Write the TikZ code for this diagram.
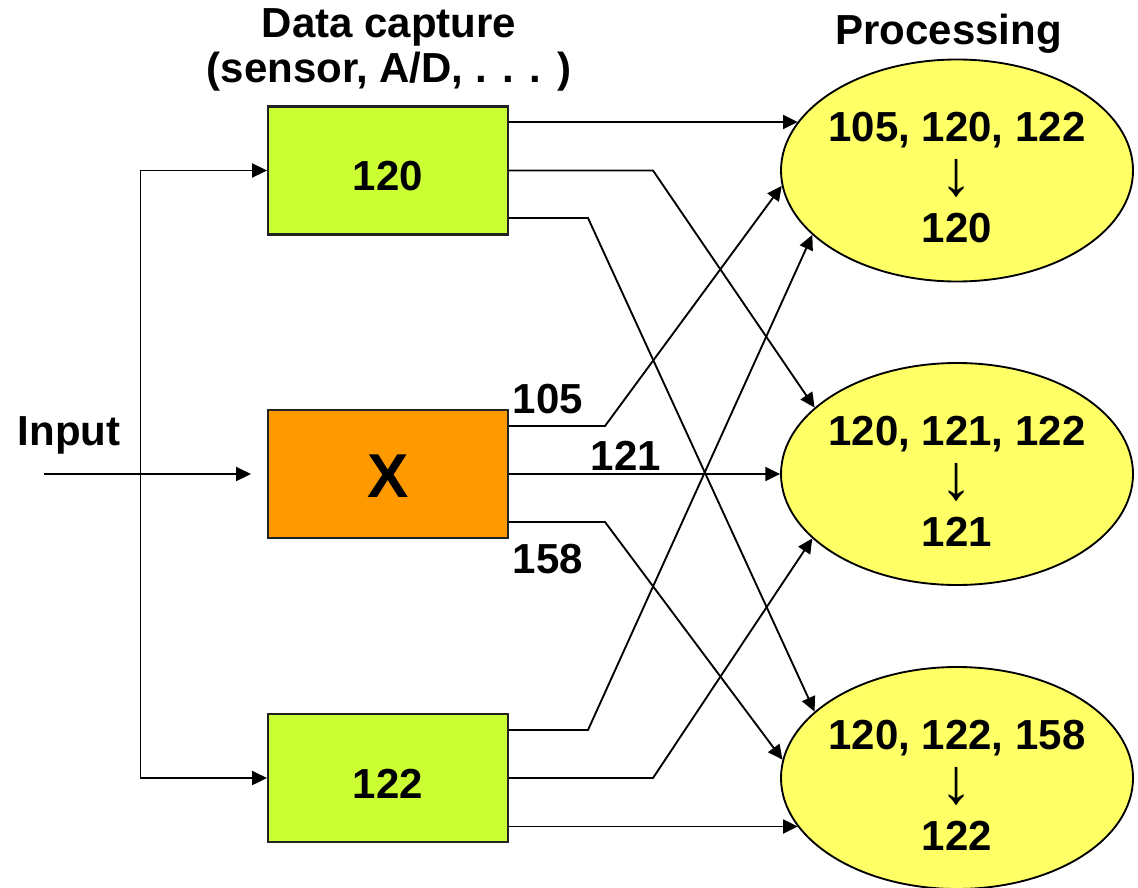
\documentclass[tikz,border=0pt]{standalone}
\usepackage{graphicx}
\usepackage{fontspec}
\setmainfont{Liberation Sans}
\usetikzlibrary{arrows.meta,shapes.geometric,calc}
\definecolor{capgreen}{HTML}{CCFF33}
\definecolor{faultorange}{HTML}{FF9900}
\definecolor{procyellow}{HTML}{FFFF66}
\definecolor{edgegrey}{HTML}{222222}
% the "reduces to" arrow between the received values and the vote
\newcommand{\votearrow}{\smash{\raisebox{-2.6pt}{\resizebox*{!}{28.5pt}{\mdseries\char"2193}}}}

\begin{document}
\begin{tikzpicture}[x=0.75pt,y=-0.75pt,
  lbl/.style={font=\fontsize{31.5}{33.75}\selectfont\bfseries, inner sep=0pt},
  capbox/.style={draw=edgegrey, line width=1.7pt, minimum width=180pt,
    minimum height=96pt, inner sep=0pt, text height=30pt, text depth=0pt,
    font=\fontsize{31.5}{33.75}\selectfont\bfseries},
  procell/.style={ellipse, draw=black, fill=procyellow, line width=1.4pt,
    minimum width=264pt, minimum height=166.5pt, inner sep=0pt},
  proctext/.style={align=center, inner sep=0pt,
    font=\fontsize{31.5}{37.9}\selectfont\bfseries},
  conn/.style={line width=1.4pt, -{Triangle[length=11pt,width=10.5pt]}}
]
\useasboundingbox (0,0) rectangle (1138,888);

% column titles
\node[lbl, align=center] (ttlcap) at (389,50) {Data capture\\(sensor, A/D, . . . )};
\node[lbl, anchor=base] (ttlproc) at (948.5,45) {Processing};

% data capture units
\node[capbox, fill=capgreen] (b1) at (388,170.5) {120};
\node[capbox, fill=faultorange, text height=35.5pt,
  font=\fontsize{46.5}{50}\selectfont\bfseries] (bx) at (388,474) {X};
\node[capbox, fill=capgreen] (b3) at (388,778) {122};

% processing units (voters)
\node[procell] (e1) at (957,170.5) {};
\node[procell] (e2) at (957,474) {};
\node[procell] (e3) at (957,778) {};
\node[proctext] (t1) at ($(e1)+(0,7.5)$) {105, 120, 122\\\votearrow\\120};
\node[proctext] (t2) at ($(e2)+(0,7.5)$) {120, 121, 122\\\votearrow\\121};
\node[proctext] (t3) at ($(e3)+(0,7.5)$) {120, 122, 158\\\votearrow\\122};

% input distribution
\node[lbl, anchor=base] (inlbl) at (69,445) {Input};
\coordinate (inp) at (44,474);
\coordinate (fork) at (140.5,474);
\draw[conn, shorten >=12pt] (inp) -- (bx.west);
\draw[conn] (fork) |- (b1.west);
\draw[conn] (fork) |- (b3.west);

% bend columns of the cross-connections
\coordinate (kout) at (588,0);
\coordinate (kin) at (605,0);
\coordinate (kmid) at (653,0);

% outputs of the first unit
\draw[conn] ($(b1.east)+(0,-48.5)$) coordinate (s11) -- (e1.163 |- s11);
\draw[conn] (b1.east) -- (b1.east -| kmid) -- (e2.155.5);
\draw[conn] ($(b1.east)+(0,47.5)$) coordinate (s13) -- (s13 -| kout) -- (e3.155.5);

% outputs of the faulty unit
\draw[conn] ($(bx.east)+(0,-48)$) coordinate (sx1) -- (sx1 -| kin) -- (e1.185.3);
\draw[conn] (bx.east) -- (e2.west);
\draw[conn] ($(bx.east)+(0,48)$) coordinate (sx3) -- (sx3 -| kin) -- (e3.174.5);

% outputs of the third unit
\draw[conn] ($(b3.east)+(0,-48)$) coordinate (s31) -- (s31 -| kout) -- (e1.204.5);
\draw[conn] (b3.east) -- (b3.east -| kmid) -- (e2.204.5);
\draw[conn] ($(b3.east)+(0,48.5)$) coordinate (s33) -- (e3.197 |- s33);

% values sent by the faulty unit
\node[lbl, anchor=base] (v105) at (548,413) {105};
\node[lbl, anchor=base] (v121) at (626,470) {121};
\node[lbl, anchor=base] (v158) at (548,573) {158};
\end{tikzpicture}
\end{document}
